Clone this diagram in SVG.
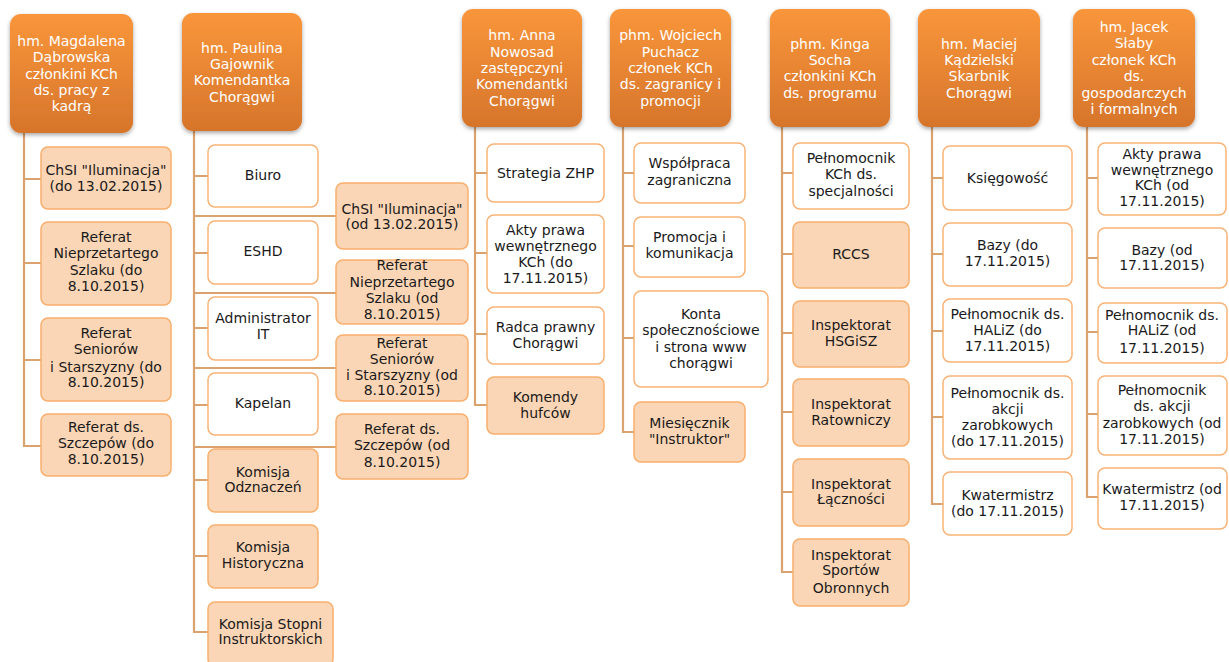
<svg xmlns="http://www.w3.org/2000/svg" width="1229" height="662" viewBox="0 0 1229 662">
<defs>
<linearGradient id="hg" x1="0" y1="0" x2="0" y2="1">
<stop offset="0" stop-color="#F9963B"/>
<stop offset="1" stop-color="#D6752B"/>
</linearGradient>
<filter id="sh" x="-10%" y="-10%" width="120%" height="125%">
<feDropShadow dx="0" dy="2" stdDeviation="2" flood-color="#000" flood-opacity="0.35"/>
</filter>
</defs>
<style>
.h rect{fill:url(#hg);filter:url(#sh)}
.h text{fill:#fff;font-family:"DejaVu Sans",sans-serif;font-size:14px;text-anchor:middle}
.w rect{fill:#fff;stroke:#F9B275;stroke-width:1.5}
.p rect{fill:#FBD6B6;stroke:#F9AE6C;stroke-width:1.5}
.w text,.p text{fill:#1a1a1a;font-family:"DejaVu Sans",sans-serif;font-size:14px;text-anchor:middle}
#conn path{fill:none;stroke:#D9A26F;stroke-width:2.2}
</style>
<rect width="1229" height="662" fill="#fff"/>
<g id="conn">
<path d="M24,133V446H41M24,179H41M24,263H41M24,360H41"/>
<path d="M194,131V632H208M194,176H208M194,253H208M194,328H208M194,405H208M194,480H208M194,556H208"/>
<path d="M194,216H336M194,293H336M194,368H336M194,447H336"/>
<path d="M475,127V405H487M475,173H487M475,253H487M475,334H487"/>
<path d="M623,127V432H634M623,173H634M623,246H634M623,338H634"/>
<path d="M782,127V572H793M782,173H793M782,254H793M782,333H793M782,412H793M782,492H793"/>
<path d="M932,127V504H943M932,178H943M932,254H943M932,331H943M932,417H943"/>
<path d="M1087,127V497H1098M1087,178H1098M1087,258H1098M1087,332H1098M1087,414H1098"/>
</g>

<g id="h1" class="h"><rect x="10" y="14" width="123" height="119" rx="11"/>
<text><tspan x="71.5" y="46">hm. Magdalena</tspan><tspan x="71.5" y="62.2">Dąbrowska</tspan><tspan x="71.5" y="78.5">członkini KCh</tspan><tspan x="71.5" y="94.8">ds. pracy z</tspan><tspan x="71.5" y="111">kadrą</tspan></text></g>
<g id="h2" class="h"><rect x="182" y="13" width="120" height="118" rx="11"/>
<text><tspan x="242" y="52.5">hm. Paulina</tspan><tspan x="242" y="68.8">Gajownik</tspan><tspan x="242" y="85.2">Komendantka</tspan><tspan x="242" y="101.5">Chorągwi</tspan></text></g>
<g id="h3" class="h"><rect x="462" y="9" width="120" height="118" rx="11"/>
<text><tspan x="522" y="40.4">hm. Anna</tspan><tspan x="522" y="56.7">Nowosad</tspan><tspan x="522" y="73">zastępczyni</tspan><tspan x="522" y="89.3">Komendantki</tspan><tspan x="522" y="105.6">Chorągwi</tspan></text></g>
<g id="h4" class="h"><rect x="610" y="9" width="121" height="118" rx="11"/>
<text><tspan x="670.5" y="40.4">phm. Wojciech</tspan><tspan x="670.5" y="56.7">Puchacz</tspan><tspan x="670.5" y="73">członek KCh</tspan><tspan x="670.5" y="89.3">ds. zagranicy i</tspan><tspan x="670.5" y="105.6">promocji</tspan></text></g>
<g id="h5" class="h"><rect x="770" y="9" width="120" height="118" rx="11"/>
<text><tspan x="830" y="48.5">phm. Kinga</tspan><tspan x="830" y="64.8">Socha</tspan><tspan x="830" y="81.2">członkini KCh</tspan><tspan x="830" y="97.5">ds. programu</tspan></text></g>
<g id="h6" class="h"><rect x="918" y="9" width="122" height="118" rx="11"/>
<text><tspan x="979" y="48.5">hm. Maciej</tspan><tspan x="979" y="64.8">Kądzielski</tspan><tspan x="979" y="81.2">Skarbnik</tspan><tspan x="979" y="97.5">Chorągwi</tspan></text></g>
<g id="h7" class="h"><rect x="1073" y="9" width="122" height="118" rx="11"/>
<text><tspan x="1134" y="31.8">hm. Jacek</tspan><tspan x="1134" y="48.3">Słaby</tspan><tspan x="1134" y="64.8">członek KCh</tspan><tspan x="1134" y="81.3">ds.</tspan><tspan x="1134" y="97.8">gospodarczych</tspan><tspan x="1134" y="114.3">i formalnych</tspan></text></g>

<g id="c1a" class="p"><rect x="41" y="147" width="130" height="62" rx="7"/><text><tspan x="106" y="175">ChSI "Iluminacja"</tspan><tspan x="106" y="191">(do 13.02.2015)</tspan></text></g>
<g id="c1b" class="p"><rect x="41" y="222" width="130" height="83" rx="7"/><text><tspan x="106" y="242">Referat</tspan><tspan x="106" y="258">Nieprzetartego</tspan><tspan x="106" y="274.5">Szlaku (do</tspan><tspan x="106" y="290.5">8.10.2015)</tspan></text></g>
<g id="c1c" class="p"><rect x="41" y="318" width="130" height="83" rx="7"/><text><tspan x="106" y="338">Referat</tspan><tspan x="106" y="354">Seniorów</tspan><tspan x="106" y="371.5">i Starszyzny (do</tspan><tspan x="106" y="386.5">8.10.2015)</tspan></text></g>
<g id="c1d" class="p"><rect x="41" y="414" width="130" height="62" rx="7"/><text><tspan x="106" y="431.5">Referat ds.</tspan><tspan x="106" y="447.5">Szczepów (do</tspan><tspan x="106" y="464">8.10.2015)</tspan></text></g>

<g id="c2a" class="w"><rect x="208" y="145" width="110" height="62" rx="7"/><text><tspan x="263" y="180">Biuro</tspan></text></g>
<g id="c2b" class="w"><rect x="208" y="221" width="110" height="63" rx="7"/><text><tspan x="263" y="256">ESHD</tspan></text></g>
<g id="c2c" class="w"><rect x="208" y="297" width="110" height="63" rx="7"/><text><tspan x="263" y="322.5">Administrator</tspan><tspan x="263" y="338.5">IT</tspan></text></g>
<g id="c2d" class="w"><rect x="208" y="373" width="110" height="62" rx="7"/><text><tspan x="263" y="408">Kapelan</tspan></text></g>
<g id="c2e" class="p"><rect x="208" y="449" width="110" height="63" rx="7"/><text><tspan x="263" y="477">Komisja</tspan><tspan x="263" y="492">Odznaczeń</tspan></text></g>
<g id="c2f" class="p"><rect x="208" y="525" width="110" height="63" rx="7"/><text><tspan x="263" y="552">Komisja</tspan><tspan x="263" y="567.5">Historyczna</tspan></text></g>
<g id="c2g" class="p"><rect x="208" y="602" width="125" height="64" rx="7"/><text><tspan x="270.5" y="628.5">Komisja Stopni</tspan><tspan x="270.5" y="644">Instruktorskich</tspan></text></g>

<g id="c2h" class="p"><rect x="336" y="183" width="132" height="66" rx="7"/><text><tspan x="402" y="213.5">ChSI "Iluminacja"</tspan><tspan x="402" y="229">(od 13.02.2015)</tspan></text></g>
<g id="c2i" class="p"><rect x="336" y="260" width="132" height="64" rx="7"/><text><tspan x="402" y="270">Referat</tspan><tspan x="402" y="286.5">Nieprzetartego</tspan><tspan x="402" y="303">Szlaku (od</tspan><tspan x="402" y="319">8.10.2015)</tspan></text></g>
<g id="c2j" class="p"><rect x="336" y="335" width="132" height="66" rx="7"/><text><tspan x="402" y="347.5">Referat</tspan><tspan x="402" y="363.5">Seniorów</tspan><tspan x="402" y="380">i Starszyzny (od</tspan><tspan x="402" y="395">8.10.2015)</tspan></text></g>
<g id="c2k" class="p"><rect x="336" y="414" width="132" height="65" rx="7"/><text><tspan x="402" y="434">Referat ds.</tspan><tspan x="402" y="450">Szczepów (od</tspan><tspan x="402" y="466.5">8.10.2015)</tspan></text></g>

<g id="c3a" class="w"><rect x="487" y="144" width="117" height="58" rx="7"/><text><tspan x="545.5" y="178">Strategia ZHP</tspan></text></g>
<g id="c3b" class="w"><rect x="487" y="215" width="117" height="78" rx="7"/><text><tspan x="545.5" y="234.5">Akty prawa</tspan><tspan x="545.5" y="250.5">wewnętrznego</tspan><tspan x="545.5" y="267">KCh (do</tspan><tspan x="545.5" y="283">17.11.2015)</tspan></text></g>
<g id="c3c" class="w"><rect x="487" y="307" width="117" height="57" rx="7"/><text><tspan x="545.5" y="332">Radca prawny</tspan><tspan x="545.5" y="347.5">Chorągwi</tspan></text></g>
<g id="c3d" class="p"><rect x="487" y="377" width="117" height="57" rx="7"/><text><tspan x="545.5" y="402">Komendy</tspan><tspan x="545.5" y="418">hufców</tspan></text></g>

<g id="c4a" class="w"><rect x="634" y="143" width="111" height="60" rx="7"/><text><tspan x="689.5" y="168">Współpraca</tspan><tspan x="689.5" y="184.5">zagraniczna</tspan></text></g>
<g id="c4b" class="w"><rect x="634" y="217" width="111" height="60" rx="7"/><text><tspan x="689.5" y="242">Promocja i</tspan><tspan x="689.5" y="258">komunikacja</tspan></text></g>
<g id="c4c" class="w"><rect x="634" y="291" width="134" height="96" rx="7"/><text><tspan x="701" y="318.5">Konta</tspan><tspan x="701" y="334.5">społecznościowe</tspan><tspan x="701" y="351.5">i strona www</tspan><tspan x="701" y="367.5">chorągwi</tspan></text></g>
<g id="c4d" class="p"><rect x="634" y="402" width="111" height="60" rx="7"/><text><tspan x="689.5" y="428">Miesięcznik</tspan><tspan x="689.5" y="443.5">"Instruktor"</tspan></text></g>

<g id="c5a" class="w"><rect x="793" y="143" width="116" height="66" rx="7"/><text><tspan x="851" y="163">Pełnomocnik</tspan><tspan x="851" y="179">KCh ds.</tspan><tspan x="851" y="196">specjalności</tspan></text></g>
<g id="c5b" class="p"><rect x="793" y="222" width="116" height="66" rx="7"/><text><tspan x="851" y="259">RCCS</tspan></text></g>
<g id="c5c" class="p"><rect x="793" y="301" width="116" height="66" rx="7"/><text><tspan x="851" y="330">Inspektorat</tspan><tspan x="851" y="346">HSGiSZ</tspan></text></g>
<g id="c5d" class="p"><rect x="793" y="379" width="116" height="67" rx="7"/><text><tspan x="851" y="408.5">Inspektorat</tspan><tspan x="851" y="425">Ratowniczy</tspan></text></g>
<g id="c5e" class="p"><rect x="793" y="459" width="116" height="67" rx="7"/><text><tspan x="851" y="488.5">Inspektorat</tspan><tspan x="851" y="504">Łączności</tspan></text></g>
<g id="c5f" class="p"><rect x="793" y="539" width="116" height="67" rx="7"/><text><tspan x="851" y="559.5">Inspektorat</tspan><tspan x="851" y="575">Sportów</tspan><tspan x="851" y="592.5">Obronnych</tspan></text></g>

<g id="c6a" class="w"><rect x="943" y="146" width="129" height="64" rx="7"/><text><tspan x="1007.5" y="183">Księgowość</tspan></text></g>
<g id="c6b" class="w"><rect x="943" y="223" width="129" height="63" rx="7"/><text><tspan x="1007.5" y="250">Bazy (do</tspan><tspan x="1007.5" y="265.5">17.11.2015)</tspan></text></g>
<g id="c6c" class="w"><rect x="943" y="299" width="129" height="63" rx="7"/><text><tspan x="1007.5" y="318.5">Pełnomocnik ds.</tspan><tspan x="1007.5" y="334.5">HALiZ (do</tspan><tspan x="1007.5" y="351">17.11.2015)</tspan></text></g>
<g id="c6d" class="w"><rect x="943" y="376" width="129" height="83" rx="7"/><text><tspan x="1007.5" y="398">Pełnomocnik ds.</tspan><tspan x="1007.5" y="413.5">akcji</tspan><tspan x="1007.5" y="430">zarobkowych</tspan><tspan x="1007.5" y="446">(do 17.11.2015)</tspan></text></g>
<g id="c6e" class="w"><rect x="943" y="472" width="129" height="63" rx="7"/><text><tspan x="1007.5" y="500">Kwatermistrz</tspan><tspan x="1007.5" y="516">(do 17.11.2015)</tspan></text></g>

<g id="c7a" class="w"><rect x="1098" y="143" width="128" height="72" rx="7"/><text><tspan x="1162" y="158.5">Akty prawa</tspan><tspan x="1162" y="174.5">wewnętrznego</tspan><tspan x="1162" y="190">KCh (od</tspan><tspan x="1162" y="206">17.11.2015)</tspan></text></g>
<g id="c7b" class="w"><rect x="1098" y="228" width="129" height="60" rx="7"/><text><tspan x="1162" y="255">Bazy (od</tspan><tspan x="1162" y="270">17.11.2015)</tspan></text></g>
<g id="c7c" class="w"><rect x="1098" y="303" width="129" height="60" rx="7"/><text><tspan x="1162" y="319.5">Pełnomocnik ds.</tspan><tspan x="1162" y="335">HALiZ (od</tspan><tspan x="1162" y="352.5">17.11.2015)</tspan></text></g>
<g id="c7d" class="w"><rect x="1098" y="376" width="129" height="79" rx="7"/><text><tspan x="1162" y="395">Pełnomocnik</tspan><tspan x="1162" y="411">ds. akcji</tspan><tspan x="1162" y="428">zarobkowych (od</tspan><tspan x="1162" y="443.5">17.11.2015)</tspan></text></g>
<g id="c7e" class="w"><rect x="1098" y="468" width="129" height="61" rx="7"/><text><tspan x="1162" y="493.5">Kwatermistrz (od</tspan><tspan x="1162" y="510">17.11.2015)</tspan></text></g>
</svg>
